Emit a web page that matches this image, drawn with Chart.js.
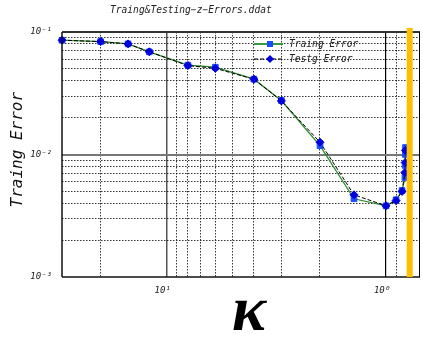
<!DOCTYPE html>
<html>
<head>
<meta charset="utf-8">
<script src="https://cdn.jsdelivr.net/npm/chart.js@4/dist/chart.umd.min.js"></script>
<style>
html,body{margin:0;padding:0;background:#fff;}
#wrap{width:423px;height:339px;position:relative;}
</style>
</head>
<body>
<div id="wrap"><canvas id="c" width="423" height="339"></canvas></div>
<script>
// ---- data ----
const kTrain   = [30, 20, 15, 12, 8, 6, 4, 3, 2, 1.4, 1.0, 0.9, 0.845, 0.82, 0.818, 0.816, 0.815];
const errTrain = [0.0857, 0.0835, 0.0800, 0.0689, 0.0536, 0.0516, 0.0412, 0.0276, 0.0118, 0.00435, 0.00381, 0.00427, 0.00508, 0.00649, 0.00813, 0.0100, 0.0114];
const kTest    = [30, 20, 15, 12, 8, 6, 4, 3, 2, 1.4, 1.0, 0.9, 0.845, 0.82, 0.818, 0.816];
const errTest  = [0.0857, 0.0835, 0.0800, 0.0689, 0.0532, 0.0505, 0.0412, 0.0274, 0.0126, 0.00469, 0.00381, 0.00420, 0.00500, 0.00713, 0.00860, 0.0108];
const markerK  = [0.78];   // orange vertical marker position

const xTicks = [30, 20, 10, 9, 8, 7, 6, 5, 4, 3, 2, 1, 0.9, 0.8, 0.7];
const yTicks = [0.001, 0.002, 0.003, 0.004, 0.005, 0.006, 0.007, 0.008, 0.009,
                0.01, 0.02, 0.03, 0.04, 0.05, 0.06, 0.07, 0.08, 0.09, 0.1];
const xMajor = [10, 1];
const xMajorLabels = ['10\u00B9', '10\u2070'];
const yMajor = [0.1, 0.01, 0.001];
const yMajorLabels = ['10\u207B\u00B9', '10\u207B\u00B2', '10\u207B\u00B3'];

const seriesNames = ['Traing Error', 'Testg Error'];
const chartTitle = 'Traing&Testing\u2212z\u2212Errors.ddat';
const yTitle = 'Traing Error';
const xTitle = '\u03BA';

const MONO = '"DejaVu Sans Mono", monospace';

function near(a, b){ return Math.abs(Math.log10(a) - Math.log10(b)) < 1e-6; }
function idxIn(list, v){ for (let i=0;i<list.length;i++){ if (near(list[i], v)) return i; } return -1; }

const xEdge = [30, 0.7], yEdge = [0.1, 0.001];

function gridColorX(ctx){
  const v = ctx.tick.value;
  if (idxIn(xEdge, v) >= 0) return 'rgba(0,0,0,0)';
  if (near(v, 10)) return '#555';
  if (near(v, 1)) return '#000';
  return 'rgba(0,0,0,0.8)';
}
function gridWidthX(ctx){
  const v = ctx.tick.value;
  if (near(v, 10)) return 1.5;
  if (near(v, 1)) return 1.2;
  return 1;
}
function gridColorY(ctx){
  const v = ctx.tick.value;
  if (idxIn(yEdge, v) >= 0) return 'rgba(0,0,0,0)';
  if (near(v, 0.01)) return '#777';
  return 'rgba(0,0,0,0.8)';
}
function gridWidthY(ctx){
  const v = ctx.tick.value;
  if (near(v, 0.01)) return 2;
  return 1;
}
function dashX(ctx){ const v = ctx.tick ? ctx.tick.value : 0; return idxIn(xMajor, v) >= 0 ? [] : [1.5, 1.5]; }
function dashY(ctx){ const v = ctx.tick ? ctx.tick.value : 0; return idxIn(yMajor, v) >= 0 ? [] : [1.5, 1.5]; }

const decor = {
  id: 'decor',
  afterDatasetsDraw(chart){
    const {ctx, chartArea: a, scales: {x}} = chart;
    ctx.save();
    // frame
    ctx.strokeStyle = '#333'; ctx.lineWidth = 2;
    ctx.beginPath(); ctx.moveTo(a.left, a.top); ctx.lineTo(a.right, a.top); ctx.stroke();
    ctx.strokeStyle = '#111'; ctx.lineWidth = 1.5;
    ctx.beginPath(); ctx.moveTo(a.left, a.bottom); ctx.lineTo(a.right, a.bottom); ctx.stroke();
    ctx.beginPath(); ctx.moveTo(a.left, a.top); ctx.lineTo(a.left, a.bottom); ctx.stroke();
    ctx.strokeStyle = '#000'; ctx.lineWidth = 1;
    ctx.beginPath(); ctx.moveTo(a.right - 0.5, a.top); ctx.lineTo(a.right - 0.5, a.bottom); ctx.stroke();
    // orange marker bar
    const px = x.getPixelForValue(markerK[0]);
    ctx.fillStyle = '#FFBF00';
    ctx.fillRect(px - 3, a.top - 4, 6, a.bottom - a.top + 4);
    ctx.restore();
  },
  afterDraw(chart){
    const {ctx} = chart;
    ctx.save();
    // title
    ctx.fillStyle = '#222';
    ctx.font = 'italic 9.6px ' + MONO;
    ctx.textBaseline = 'middle';
    ctx.textAlign = 'left';
    ctx.fillText(chartTitle, 110, 10);
    // legend (inside plot)
    const rows = [
      {y: 44, color: '#3a9a3a', dash: [], style: 'rect', mcol: '#1a4cff', lw: 2},
      {y: 59, color: '#000', dash: [4, 2], style: 'rectRot', mcol: '#0000dd', lw: 1.2}
    ];
    rows.forEach((r, i) => {
      ctx.strokeStyle = r.color; ctx.lineWidth = r.lw; ctx.setLineDash(r.dash);
      ctx.beginPath(); ctx.moveTo(254, r.y); ctx.lineTo(283, r.y); ctx.stroke();
      ctx.setLineDash([]);
      ctx.fillStyle = r.mcol; ctx.strokeStyle = r.mcol;
      ctx.beginPath();
      if (r.style === 'rect') { ctx.rect(267, r.y - 3, 6, 6); }
      else { ctx.moveTo(270, r.y - 4); ctx.lineTo(274, r.y); ctx.lineTo(270, r.y + 4); ctx.lineTo(266, r.y); ctx.closePath(); }
      ctx.fill();
      ctx.fillStyle = '#222';
      ctx.font = 'italic 9.6px ' + MONO;
      ctx.textBaseline = 'middle';
      ctx.fillText(seriesNames[i], 289, r.y + 0.5);
    });
    ctx.restore();
  }
};

new Chart(document.getElementById('c'), {
  type: 'line',
  data: {
    datasets: [
      {
        label: seriesNames[1],
        data: kTest.map((k, i) => ({x: k, y: errTest[i]})),
        borderColor: '#000', borderWidth: 1, borderDash: [4, 2],
        pointStyle: 'rectRot', pointRadius: 4, pointBackgroundColor: '#0000dd', pointBorderColor: '#0000dd', pointBorderWidth: 1,
        tension: 0, clip: false
      },
      {
        label: seriesNames[0],
        data: kTrain.map((k, i) => ({x: k, y: errTrain[i]})),
        borderColor: '#2e8b2e', borderWidth: 1.3,
        pointStyle: 'rect', pointRadius: 4, pointBackgroundColor: '#1a4cff', pointBorderColor: '#1a4cff', pointBorderWidth: 1,
        tension: 0, clip: false
      }
    ]
  },
  options: {
    responsive: false, animation: false, devicePixelRatio: 1,
    layout: {autoPadding: false, padding: {top: 32, right: 3, left: 0, bottom: 0}},
    plugins: {legend: {display: false}, title: {display: false}, tooltip: {enabled: false}},
    scales: {
      x: {
        type: 'logarithmic', reverse: true, min: 0.7, max: 30,
        afterBuildTicks: s => { s.ticks = xTicks.map(v => ({value: v})); },
        afterFit: s => { s.height = 62; s.paddingLeft = 0; s.paddingRight = 0; },
        grid: {color: gridColorX, lineWidth: gridWidthX, drawTicks: false},
        border: {display: false, dash: dashX},
        ticks: {
          autoSkip: false, maxRotation: 0, minRotation: 0, padding: 8, labelOffset: -4,
          color: '#222', font: {family: MONO, style: 'italic', size: 9},
          callback: v => { const i = idxIn(xMajor, v); return i >= 0 ? xMajorLabels[i] : ''; }
        },
        title: {display: true, text: ' ' + xTitle, color: '#000',
          font: {family: '"Liberation Serif", serif', style: 'italic', weight: 'bold', size: 64, lineHeight: 0.8},
          padding: {top: 0, bottom: 0}}
      },
      y: {
        type: 'logarithmic', min: 0.001, max: 0.1,
        afterBuildTicks: s => { s.ticks = yTicks.map(v => ({value: v})); },
        afterFit: s => { s.width = 62; s.paddingTop = 0; s.paddingBottom = 0; },
        grid: {color: gridColorY, lineWidth: gridWidthY, drawTicks: false},
        border: {display: false, dash: dashY},
        ticks: {
          autoSkip: false, padding: 10,
          color: '#222', font: {family: MONO, style: 'italic', size: 9},
          callback: v => { const i = idxIn(yMajor, v); return i >= 0 ? yMajorLabels[i] : ''; }
        },
        title: {display: true, text: ' ' + yTitle, color: '#111',
          font: {family: MONO, style: 'italic', size: 16, lineHeight: 1.2},
          padding: {top: 8, bottom: 0}}
      }
    }
  },
  plugins: [decor]
});
</script>
</body>
</html>
